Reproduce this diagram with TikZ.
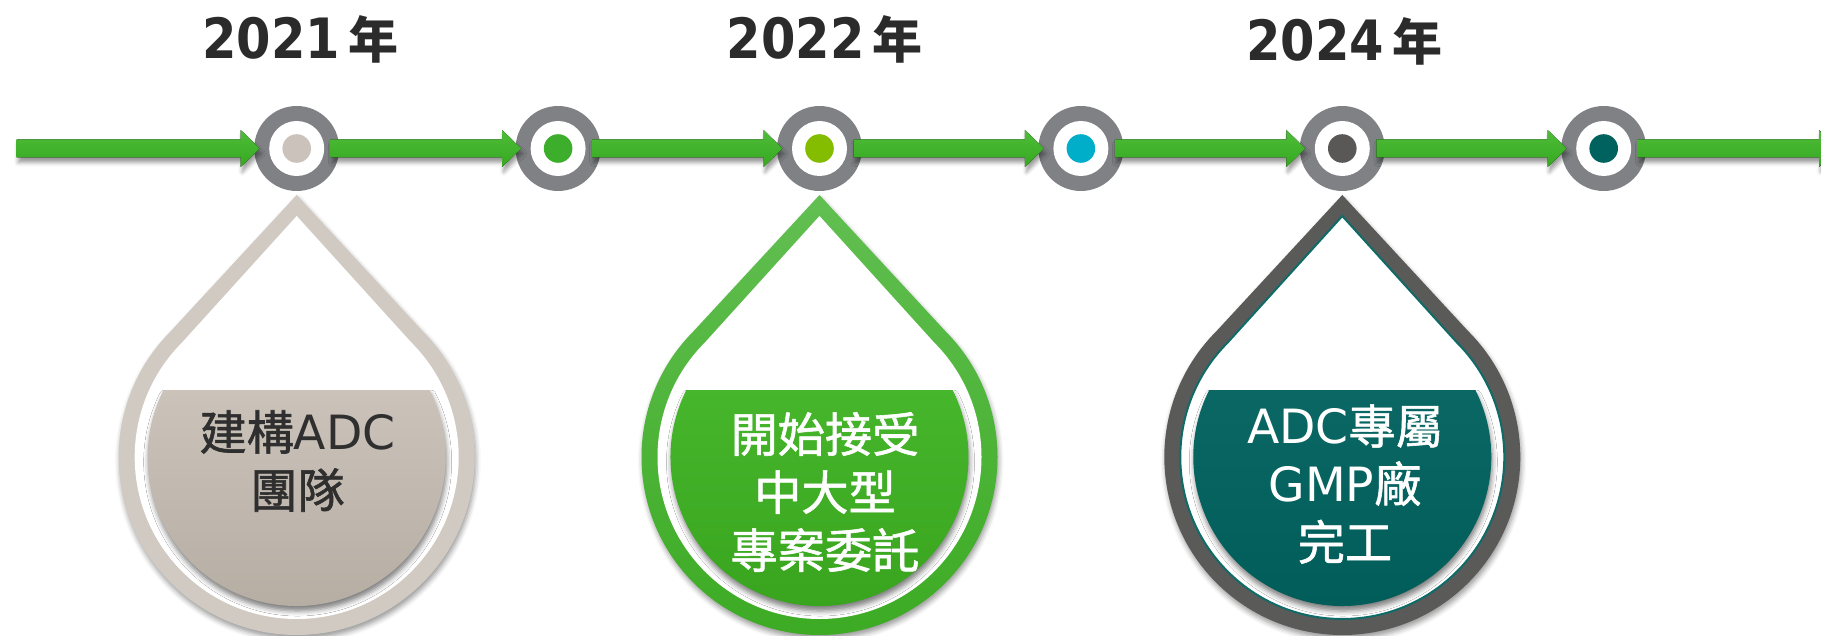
\documentclass[tikz,border=0pt]{standalone}
\usepackage{fontspec}
\setmainfont{Noto Sans CJK TC}
\newfontfamily\yearfont{DejaVu Sans}[FakeStretch=0.89]
\newfontfamily\cjkfont{Noto Sans CJK TC}[FakeBold=1.2]
\newfontfamily\yearcjk{Noto Sans CJK TC}
\newfontfamily\dropLatin{DejaVu Sans}
\usetikzlibrary{calc,shadows.blur}

\definecolor{ringgray}{HTML}{808185}
\definecolor{arrowtop}{HTML}{4EBD3A}
\definecolor{arrowbot}{HTML}{36A81F}
\definecolor{dOneband}{HTML}{D1CAC2}
\definecolor{dOnetop}{HTML}{CBC3BA}
\definecolor{dOnebot}{HTML}{B4ABA1}
\definecolor{dOnetext}{HTML}{2F2F2F}
\definecolor{dTwobandtop}{HTML}{62BF52}
\definecolor{dTwobandbot}{HTML}{3BAA22}
\definecolor{dTwotop}{HTML}{46B62C}
\definecolor{dTwobot}{HTML}{38A31D}
\definecolor{dThreeband}{HTML}{5A5A59}
\definecolor{dThreeline}{HTML}{0E6B67}
\definecolor{dThreetop}{HTML}{0B6763}
\definecolor{dThreebot}{HTML}{005C58}
\definecolor{dotA}{HTML}{CBC3BB}
\definecolor{dotB}{HTML}{3DAE2B}
\definecolor{dotC}{HTML}{84BD00}
\definecolor{dotD}{HTML}{00AECA}
\definecolor{dotE}{HTML}{595856}
\definecolor{dotF}{HTML}{00625E}
\definecolor{yeartext}{HTML}{2B2B2B}

\newcommand\lat[1]{{\dropLatin #1}}
\newcommand\nian{{\yearcjk\bfseries\fontsize{25pt}{25pt}\selectfont 年}}

\tikzset{
  ring/.style={circle, fill=ringgray, minimum size=42.5pt, inner sep=0pt},
  tlarrowstyle/.style={top color=arrowtop, bottom color=arrowbot,
    blur shadow={shadow xshift=0.8pt, shadow yshift=-2.5pt, shadow blur radius=2pt, shadow opacity=40}},
  yearlabel/.style={text=yeartext, font=\yearfont\bfseries\fontsize{27.8pt}{30pt}\selectfont, inner sep=0pt, anchor=base},
  droptext/.style={align=center, inner sep=0pt, font=\cjkfont\fontsize{23.6pt}{29pt}\selectfont},
  dropshadow/.style={blur shadow={shadow xshift=0.6pt, shadow yshift=-2pt, shadow blur radius=2.5pt, shadow opacity=40}},
  contentshadow/.style={blur shadow={shadow xshift=0.5pt, shadow yshift=-2.5pt, shadow blur radius=2.5pt, shadow opacity=50}}
}

% #1 from point, #2 offset from it, #3 to point
\newcommand\tlarrow[3]{%
  \fill[tlarrowstyle] ($(#1)+(#2,-9)$) -- ($(#3)+(-56,-9)$) -- ($(#3)+(-56,-18.5)$)
    -- ($(#3)+(-37,0)$) -- ($(#3)+(-56,18.5)$) -- ($(#3)+(-56,9)$) -- ($(#1)+(#2,9)$) -- cycle;}

% #1 drop centre x, #2 band style, #3 inner white style, #4 content style
\newcommand\tldrop[4]{%
  \path[#2, dropshadow] (#1,195) -- ($(#1,457)+(225:178)$) arc[start angle=225, end angle=-45, radius=178] -- cycle;
  \path[#3] (#1,216) -- ($(#1,457)+(225:162)$) arc[start angle=225, end angle=-45, radius=162] -- cycle;
  \path[#4, contentshadow] ($(#1,457)+(206.7:149)$) arc[start angle=206.7, end angle=-26.7, radius=149] -- cycle;
}

\begin{document}
\begin{tikzpicture}[x=0.5pt, y=-0.5pt]
\useasboundingbox (0,0) rectangle (1821,636);
\clip (0,0) rectangle (1821,636);

% drops
\tldrop{296.7}{fill=dOneband}{fill=white}{top color=dOnetop, bottom color=dOnebot}
\tldrop{819.5}{top color=dTwobandtop, bottom color=dTwobandbot}{fill=white}{top color=dTwotop, bottom color=dTwobot}
\tldrop{1342.3}{fill=dThreeband}{fill=white, draw=dThreeline, line width=1pt}{top color=dThreetop, bottom color=dThreebot}

\node[droptext, text=dOnetext] (t1) at (297.5,461) {建構\lat{ADC}\\團隊};
\node[droptext, text=white] (t2) at (825,492) {開始接受\\中大型\\專案委託};
\node[droptext, text=white] (t3) at (1345,484) {\lat{ADC}專屬\\\lat{GMP}廠\\完工};

% rings
\foreach \i/\x/\c in {1/296.7/dotA, 2/558.1/dotB, 3/819.5/dotC, 4/1080.9/dotD, 5/1342.3/dotE, 6/1603.7/dotF}{
  \node[ring] (c\i) at (\x,148.5) {};
  \fill[white] (c\i.center) circle[radius=27.5];
  \fill[\c] (c\i.center) circle[radius=14.3];
}

% arrows
\coordinate (tStart) at (16.6,148.5);
\coordinate (tEnd) at (1875,148.5);
\tlarrow{tStart}{0}{c1.center}
\tlarrow{c1.center}{34}{c2.center}
\tlarrow{c2.center}{34}{c3.center}
\tlarrow{c3.center}{34}{c4.center}
\tlarrow{c4.center}{34}{c5.center}
\tlarrow{c5.center}{34}{c6.center}
\tlarrow{c6.center}{34}{tEnd}

% years
\node[yearlabel] (y1) at (300.4,58.8) {2021\hspace{4pt}\nian};
\node[yearlabel] (y2) at (824.6,58.8) {2022\hspace{4pt}\nian};
\node[yearlabel] (y3) at (1344.3,60.9) {2024\hspace{4pt}\nian};
\end{tikzpicture}
\end{document}
